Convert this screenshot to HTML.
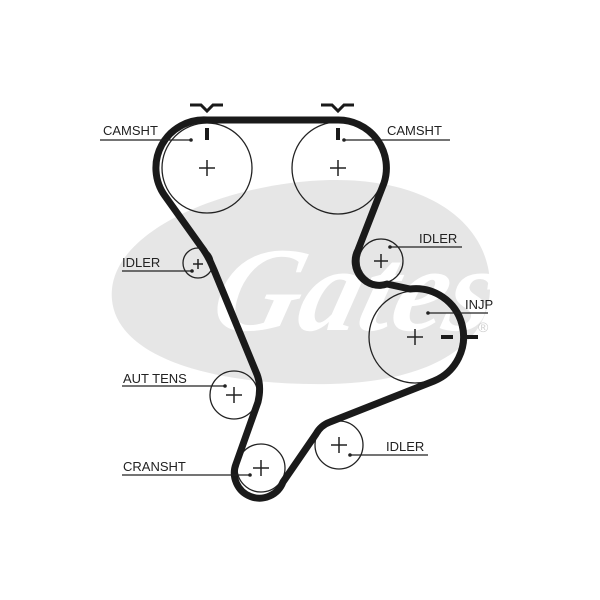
<!DOCTYPE html>
<html><head><style>
html,body{margin:0;padding:0;background:#fff;}
svg{display:block;}
text{font-family:"Liberation Sans",sans-serif;font-size:13px;fill:#222;}
</style></head><body>
<svg width="600" height="600" viewBox="0 0 600 600">
<!-- Gates logo background -->
<path d="M112,300 C105,230 230,182 330,180 C430,178 492,225 490,290 C488,345 430,382 330,384 C220,386 118,360 112,300 Z" fill="#e6e6e6"/>
<text x="215" y="330" style="font-family:'Liberation Serif',serif;font-style:italic;font-weight:bold;font-size:120px;fill:#fff" transform="skewX(-15) translate(80,0)">Gates</text>
<text x="478" y="332" style="font-size:14px;fill:#d0d0d0">®</text>

<!-- pulleys -->
<g fill="none" stroke="#222" stroke-width="1.3">
<circle cx="207" cy="168" r="45"/>
<circle cx="338" cy="168" r="46"/>
<circle cx="198" cy="263" r="15"/>
<circle cx="381" cy="261" r="22"/>
<circle cx="415" cy="337" r="46"/>
<circle cx="234" cy="395" r="24"/>
<circle cx="261" cy="468" r="24"/>
<circle cx="339" cy="445" r="24"/>
</g>
<!-- centers -->
<g stroke="#222" stroke-width="1.5">
<path d="M199,168h16M207,160v16"/>
<path d="M330,168h16M338,160v16"/>
<path d="M193,264h10M198,259v10"/>
<path d="M374,261h14M381,254v14"/>
<path d="M407,337h16M415,329v16"/>
<path d="M226,395h16M234,387v16"/>
<path d="M253,468h16M261,460v16"/>
<path d="M331,445h16M339,437v16"/>
</g>
<!-- belt -->
<path d="M207,120 L338,120 A48,48 0 0 1 384,183 L358,250 A24,24 0 0 0 387,284 L410,289 A48,48 0 0 1 434,381 L330,422 A26,26 0 0 0 316,434 L283,482 A25,25 0 0 1 236,464 L258,402 Q262,385 256,372 L214,270 Q208,255 200,245 L165,196 A48,48 0 0 1 207,120 Z" fill="none" stroke="#1a1a1a" stroke-width="7" stroke-linejoin="round"/>
<!-- timing marks -->
<g stroke="#1a1a1a" stroke-width="3" fill="none">
<path d="M190,105h11l6,6 6,-6h10"/>
<path d="M321,105h11l6,6 6,-6h10"/>
</g>
<rect x="205" y="128" width="4" height="12" fill="#1a1a1a"/>
<rect x="336" y="128" width="4" height="12" fill="#1a1a1a"/>
<rect x="441" y="335" width="12" height="4" fill="#1a1a1a"/>
<rect x="462" y="335" width="16" height="4" fill="#1a1a1a"/>
<!-- leaders -->
<g stroke="#222" stroke-width="1.2">
<path d="M100,140h91"/><path d="M344,140h106"/>
<path d="M122,271h70"/><path d="M390,247h72"/>
<path d="M428,313h60"/><path d="M122,386h103"/>
<path d="M122,475h128"/><path d="M350,455h78"/>
</g>
<g fill="#222">
<circle cx="191" cy="140" r="1.8"/><circle cx="344" cy="140" r="1.8"/>
<circle cx="192" cy="271" r="1.8"/><circle cx="390" cy="247" r="1.8"/>
<circle cx="428" cy="313" r="1.8"/><circle cx="225" cy="386" r="1.8"/>
<circle cx="250" cy="475" r="1.8"/><circle cx="350" cy="455" r="1.8"/>
</g>
<text x="103" y="135">CAMSHT</text>
<text x="387" y="135">CAMSHT</text>
<text x="122" y="267">IDLER</text>
<text x="419" y="243">IDLER</text>
<text x="465" y="309">INJP</text>
<text x="123" y="383">AUT TENS</text>
<text x="123" y="471">CRANSHT</text>
<text x="386" y="451">IDLER</text>
</svg>
</body></html>
